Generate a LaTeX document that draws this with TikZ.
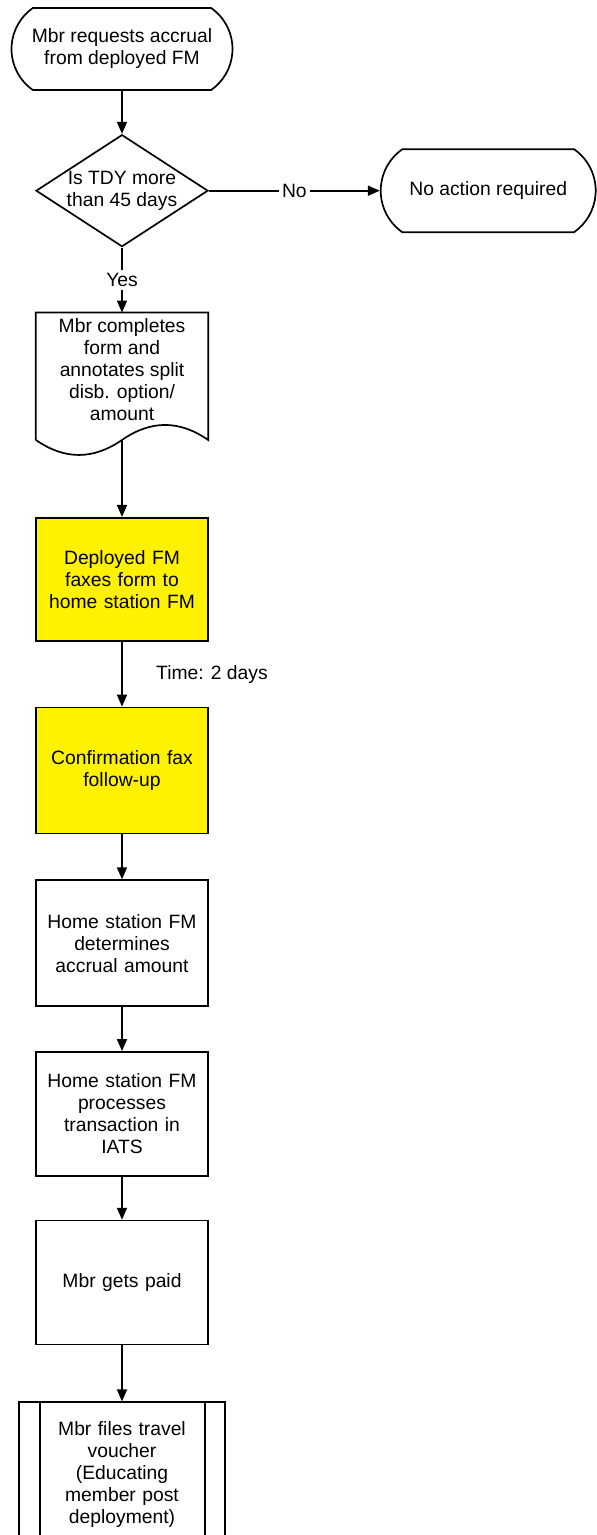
\documentclass[tikz,border=0pt]{standalone}
\usepackage{fontspec}
\setmainfont{Liberation Sans}
\usepackage{tikz}
\usetikzlibrary{arrows.meta, shapes.geometric, shapes.misc, positioning, calc}
\newcommand{\flowfont}{\fontsize{19.3}{22}\selectfont}
\tikzset{
  term/.style={rounded rectangle,rounded rectangle arc length=110,draw,line width=1.7pt,minimum width=225pt,minimum height=82pt,align=center,inner sep=2pt,font=\flowfont},
  dec/.style={diamond,draw,line width=1.7pt,minimum width=172pt,minimum height=112pt,inner sep=0pt},
  txt/.style={align=center,font=\flowfont},
  docbox/.style={rectangle,minimum width=172pt,minimum height=127pt,inner sep=0pt},
  pbox/.style={rectangle,draw,line width=1.7pt,minimum width=172pt,minimum height=125pt,text width=166pt,inner sep=3pt,align=center,font=\flowfont},
  ybox/.style={pbox,fill=yellow},
  subbox/.style={pbox,minimum width=206pt,minimum height=145pt},
  outl/.style={line width=1.7pt},
  arr/.style={-{Triangle[length=12pt,width=10pt]},line width=1.7pt},
  lbl/.style={fill=white,inner sep=3pt,font=\flowfont}
}

\begin{document}
\begin{tikzpicture}[node distance=45pt]
  \useasboundingbox (-122pt,49pt) rectangle (475pt,-1486pt);
  \node[term] (start) at (0,0) {Mbr requests accrual\\from deployed FM};
  \node[dec, below=43pt of start, label={[txt]center:Is TDY more\\than 45 days}] (tdy) {};
  \node[term, minimum width=219pt, minimum height=83pt, right=171pt of tdy] (noact) {No action required};
  \node[docbox, below=65pt of tdy, label={[txt,yshift=7pt]center:Mbr completes\\form and\\annotates split\\disb. option/\\amount}] (form) {};
  \node[ybox, minimum height=123pt, below=77pt of form] (fax) {Deployed FM\\faxes form to\\home station FM};
  \node[ybox, minimum height=126pt, below=65pt of fax] (confirm) {Confirmation fax\\follow-up};
  \node[pbox, minimum height=126pt, below=45pt of confirm] (accrual) {Home station FM\\determines\\accrual amount};
  \node[pbox, minimum height=124pt, below=44pt of accrual] (iats) {Home station FM\\processes\\transaction in\\IATS};
  \node[pbox, minimum height=124pt, below=43pt of iats] (paid) {Mbr gets paid};
  \node[subbox, below=56pt of paid] (voucher) {Mbr files travel\\voucher\\(Educating\\member post\\deployment)};

  \draw[outl] (form.south west) -- (form.north west) -- (form.north east) -- (form.south east)
    .. controls +(-29pt,20pt) and +(29pt,20pt) .. (form.south)
    .. controls +(-29pt,-20pt) and +(29pt,-20pt) .. (form.south west);
  \draw[outl] ([xshift=22pt]voucher.north west) -- ([xshift=22pt]voucher.south west);
  \draw[outl] ([xshift=-21pt]voucher.north east) -- ([xshift=-21pt]voucher.south east);

  \draw[arr] (start) -- (tdy);
  \draw[arr] (tdy) -- node[lbl]{No} (noact);
  \draw[arr] (tdy) -- node[lbl]{Yes} (form);
  \draw[arr] (form) -- (fax);
  \draw[arr] (fax) -- node[right=30pt, font=\flowfont]{Time: 2 days} (confirm);
  \draw[arr] (confirm) -- (accrual);
  \draw[arr] (accrual) -- (iats);
  \draw[arr] (iats) -- (paid);
  \draw[arr] (paid) -- (voucher);
\end{tikzpicture}
\end{document}
